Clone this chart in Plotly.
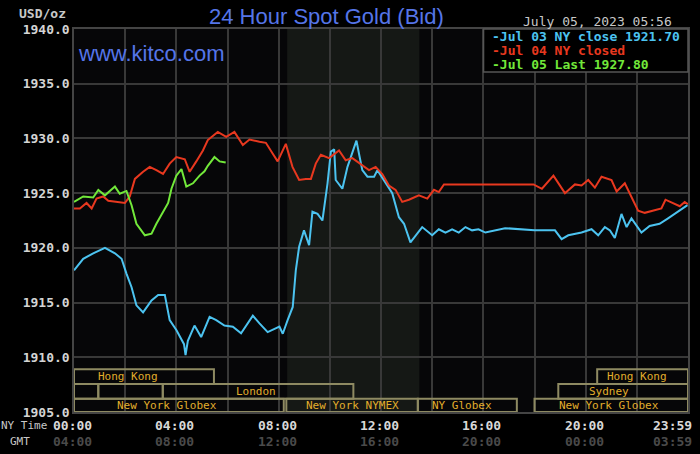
import plotly.graph_objects as go

# ---------------- data (hours since 00:00 NY time, USD/oz) ----------------
blue_hours = [0.00, 0.36, 0.75, 1.21, 1.60, 1.86, 2.05, 2.25, 2.44, 2.70,
              3.03, 3.29, 3.55, 3.74, 4.00, 4.30, 4.36, 4.45, 4.71, 4.97,
              5.30, 5.56, 5.88, 6.21, 6.53, 6.99, 7.25, 7.57, 8.03, 8.16,
              8.35, 8.55, 8.67, 8.80, 8.99, 9.19, 9.32, 9.52, 9.71, 9.91,
              10.04, 10.17, 10.23, 10.49, 10.69, 10.88, 11.04, 11.14, 11.27, 11.47,
              11.73, 11.86, 12.11, 12.44, 12.70, 12.90, 13.15, 13.35, 13.61, 14.00,
              14.26, 14.52, 14.78, 15.04, 15.30, 15.56, 15.81, 16.08, 16.85, 18.00,
              18.80, 19.06, 19.32, 19.84, 20.23, 20.49, 20.75, 20.95, 21.14, 21.40,
              21.60, 21.79, 21.92, 22.18, 22.50, 22.89, 23.22, 23.61, 23.98]
blue_values = [1917.95, 1919.0, 1919.5, 1920.0, 1919.5, 1919.0, 1917.65, 1916.4, 1914.75, 1914.1,
               1915.2, 1915.7, 1915.7, 1913.4, 1912.5, 1911.2, 1910.2, 1911.5, 1912.9, 1911.85,
               1913.7, 1913.4, 1912.9, 1912.8, 1912.2, 1913.8, 1913.1, 1912.3, 1912.8, 1912.15,
               1913.4, 1914.6, 1917.95, 1920.1, 1921.6, 1920.24, 1923.3, 1923.1, 1922.5, 1925.9,
               1928.8, 1929.0, 1926.2, 1925.4, 1927.4, 1928.6, 1929.8, 1928.6, 1927.1, 1926.5,
               1926.5, 1927.1, 1926.2, 1925.0, 1922.8, 1922.2, 1920.5, 1921.15, 1921.9, 1921.15,
               1921.7, 1921.4, 1921.7, 1921.4, 1921.9, 1921.6, 1921.7, 1921.4, 1921.8, 1921.6,
               1921.6, 1920.8, 1921.15, 1921.4, 1921.7, 1921.15, 1921.9, 1921.6, 1920.9, 1923.1,
               1921.9, 1922.7, 1922.3, 1921.4, 1922.0, 1922.2, 1922.7, 1923.3, 1923.9]

red_hours = [0.00, 0.23, 0.49, 0.69, 0.88, 1.14, 1.34, 1.66, 1.99, 2.18,
             2.38, 2.70, 2.96, 3.22, 3.48, 3.74, 4.00, 4.33, 4.52, 4.78,
             5.04, 5.23, 5.62, 5.95, 6.27, 6.60, 6.86, 7.25, 7.50, 7.77,
             7.96, 8.28, 8.54, 8.80, 9.06, 9.26, 9.45, 9.65, 9.97, 10.36,
             10.62, 10.88, 11.21, 11.53, 11.79, 12.05, 12.31, 12.57, 12.83, 13.09,
             13.48, 13.81, 14.07, 14.26, 14.46, 17.96, 18.29, 18.74, 19.19, 19.58,
             19.84, 20.10, 20.36, 20.62, 21.01, 21.21, 21.53, 21.79, 22.05, 22.31,
             22.70, 22.96, 23.12, 23.42, 23.68, 23.87, 24.00]
red_values = [1923.6, 1923.6, 1924.1, 1923.6, 1924.5, 1924.7, 1924.3, 1924.2, 1924.1, 1924.7,
              1926.3, 1926.95, 1927.4, 1927.1, 1926.75, 1927.7, 1928.3, 1928.1, 1926.95, 1927.9,
              1928.9, 1929.85, 1930.6, 1930.15, 1930.6, 1929.4, 1929.9, 1929.7, 1929.6, 1928.6,
              1927.9, 1929.5, 1927.4, 1926.2, 1926.3, 1926.3, 1927.7, 1928.5, 1928.2, 1928.9,
              1928.0, 1928.2, 1927.6, 1927.1, 1927.4, 1926.75, 1925.7, 1925.3, 1924.2, 1924.4,
              1924.8, 1924.5, 1925.3, 1925.1, 1925.8, 1925.8, 1925.4, 1926.6, 1925.0, 1925.8,
              1925.7, 1926.2, 1925.5, 1926.5, 1926.2, 1925.15, 1925.9, 1924.7, 1923.4, 1923.2,
              1923.4, 1923.6, 1924.4, 1924.1, 1923.8, 1924.2, 1924.0]

green_hours = [0.00, 0.36, 0.75, 0.95, 1.21, 1.60, 1.79, 2.05, 2.25, 2.44,
               2.77, 3.03, 3.22, 3.42, 3.68, 3.81, 4.00, 4.20, 4.39, 4.65,
               4.91, 5.10, 5.23, 5.49, 5.69, 5.93]
green_values = [1924.2, 1924.7, 1924.6, 1925.3, 1924.8, 1925.6, 1924.95, 1925.2, 1923.9, 1922.2,
                1921.15, 1921.3, 1922.2, 1923.0, 1924.1, 1925.4, 1926.6, 1927.2, 1925.6, 1925.9,
                1926.6, 1927.0, 1927.5, 1928.3, 1927.9, 1927.8]

series_names = ["Jul 03 NY close 1921.70", "Jul 04 NY closed", "Jul 05 Last 1927.80"]
series_colors = ["#4cc3f0", "#e8381f", "#72e83a"]

ny_tick_hours = [0, 4, 8, 12, 16, 20, 24]
ny_tick_labels = ["00:00", "04:00", "08:00", "12:00", "16:00", "20:00", "23:59"]
gmt_tick_labels = ["04:00", "08:00", "12:00", "16:00", "20:00", "00:00", "03:59"]

# trading sessions: (row, start hour, end hour, label, label centre hour)
session_rows = [1, 1, 2, 2, 2, 2, 3, 3, 3, 3]
session_start = [0.0, 20.45, 0.0, 0.95, 3.47, 18.93, 0.0, 8.30, 13.44, 18.0]
session_end = [5.47, 24.0, 0.95, 3.47, 10.92, 24.0, 8.20, 13.44, 17.31, 24.0]
session_labels = ["Hong Kong", "Hong Kong", "", "", "London", "Sydney",
                  "New York Globex", "New York NYMEX", "NY Globex", "New York Globex"]
session_label_at = [2.1, 22.0, 0, 0, 7.13, 20.93, 3.62, 10.87, 15.15, 20.93]
row_bounds = {1: (1907.55, 1908.9), 2: (1906.2, 1907.55), 3: (1905.0, 1906.2)}

nymex_shade = (8.333, 13.5)

MONO = "DejaVu Sans Mono"

fig = go.Figure()
for hrs, vals, name, col in zip([blue_hours, red_hours, green_hours],
                                [blue_values, red_values, green_values],
                                series_names, series_colors):
    fig.add_trace(go.Scatter(x=hrs, y=vals, mode="lines", name=name,
                             line=dict(color=col, width=2), showlegend=False))

shapes = []
# NYMEX shaded period
shapes.append(dict(type="rect", xref="x", yref="paper", x0=nymex_shade[0], x1=nymex_shade[1],
                   y0=0, y1=1, fillcolor="#151815", line=dict(width=0), layer="below"))
annotations = []
for r, s, e, lab, lx in zip(session_rows, session_start, session_end, session_labels, session_label_at):
    y0, y1 = row_bounds[r]
    shapes.append(dict(type="rect", xref="x", yref="y", x0=s, x1=e, y0=y0, y1=y1,
                       line=dict(color="#8e8a62", width=2), fillcolor="rgba(0,0,0,0)", layer="above"))
    if lab:
        annotations.append(dict(x=lx, y=(y0 + y1) / 2, xref="x", yref="y", text=lab,
                                showarrow=False, xanchor="center", yanchor="middle",
                                font=dict(family=MONO, size=11, color="#e2ae2c")))

# legend box
shapes.append(dict(type="rect", xref="paper", yref="paper", x0=0.667, x1=1.0, y0=0.888, y1=1.0,
                   fillcolor="#000000", line=dict(color="#555555", width=1.5), layer="above"))
for i, (name, col) in enumerate(zip(series_names, series_colors)):
    annotations.append(dict(x=0.678, y=[0.980, 0.944, 0.908][i], xref="paper", yref="paper",
                            text="-" + name, showarrow=False, xanchor="left", yanchor="middle",
                            font=dict(family=MONO, size=13, color=col, weight="bold")))

# time axis labels
for h, ny, gmt in zip(ny_tick_hours, ny_tick_labels, gmt_tick_labels):
    anchor = "right" if h == 24 else "center"
    xs = 6 if h == 24 else -1.5
    annotations.append(dict(x=h, y=0, xref="x", yref="paper", text=ny, showarrow=False,
                            xanchor=anchor, yanchor="middle", yshift=-13, xshift=xs,
                            font=dict(family=MONO, size=13, color="#d8d8d8", weight="bold")))
    annotations.append(dict(x=h, y=0, xref="x", yref="paper", text=gmt, showarrow=False,
                            xanchor=anchor, yanchor="middle", yshift=-29, xshift=xs,
                            font=dict(family=MONO, size=13, color="#4a4a4a", weight="bold")))
annotations.append(dict(x=-0.04, y=0, xref="paper", yref="paper", text="NY Time", showarrow=False,
                        xanchor="right", yanchor="middle", yshift=-13,
                        font=dict(family=MONO, size=11, color="#c8c8c8")))
annotations.append(dict(x=-0.068, y=0, xref="paper", yref="paper", text="GMT", showarrow=False,
                        xanchor="right", yanchor="middle", yshift=-29,
                        font=dict(family=MONO, size=11, color="#c8c8c8")))

# titles and texts
annotations.append(dict(x=0.4115, y=1.032, xref="paper", yref="paper", text="24 Hour Spot Gold (Bid)",
                        showarrow=False, xanchor="center", yanchor="middle",
                        font=dict(family="Liberation Sans", size=22, color="#5575e8")))
annotations.append(dict(x=0.003, y=0.937, xref="paper", yref="paper", text="www.kitco.com",
                        showarrow=False, xanchor="left", yanchor="middle",
                        font=dict(family="Liberation Sans", size=22, color="#5575e8")))
annotations.append(dict(x=-0.0097, y=1.04, xref="paper", yref="paper", text="USD/oz",
                        showarrow=False, xanchor="right", yanchor="middle",
                        font=dict(family=MONO, size=13, color="#c8c8c8", weight="bold")))
annotations.append(dict(x=0.978, y=1.019, xref="paper", yref="paper", text="July 05, 2023 05:56",
                        showarrow=False, xanchor="right", yanchor="middle",
                        font=dict(family=MONO, size=13, color="#c8c8c8")))

fig.update_layout(
    width=700, height=454,
    margin=dict(l=74, r=10, t=29, b=42),
    paper_bgcolor="#000000", plot_bgcolor="#060608",
    shapes=shapes, annotations=annotations,
    xaxis=dict(range=[0, 24], dtick=2, tick0=0, showgrid=True, gridcolor="#383838", gridwidth=1.5,
               showticklabels=False, zeroline=False, showline=True, mirror=True,
               linecolor="#444444", linewidth=1.5, ticks=""),
    yaxis=dict(range=[1905, 1940], dtick=5, tick0=1905, tickformat=".1f", showgrid=True,
               gridcolor="#383838", gridwidth=1.5, zeroline=False, showline=True, mirror=True,
               linecolor="#444444", linewidth=1.5, ticks="",
               tickfont=dict(family=MONO, size=13, color="#d4d4d4", weight="bold")),
)

fig.write_html("out.html", config={"displayModeBar": False},
               post_script="document.body.style.margin='0';document.body.style.background='#000';")
